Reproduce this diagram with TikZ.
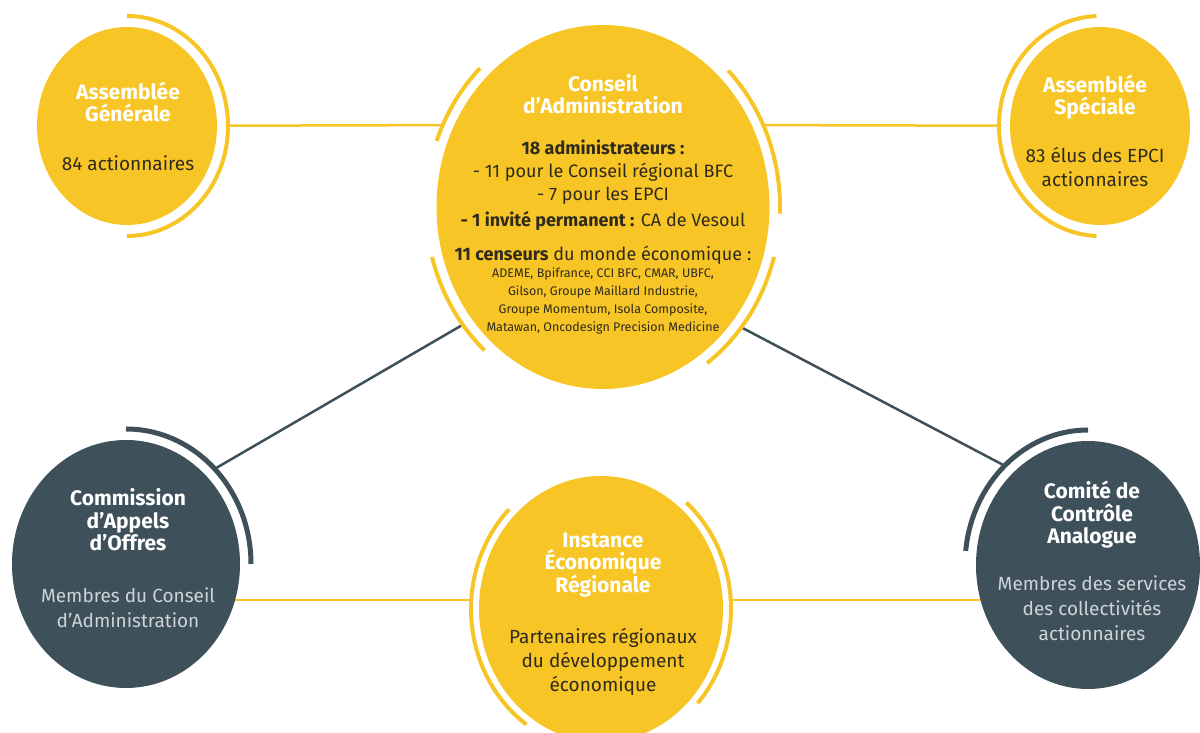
\documentclass[tikz,border=0pt]{standalone}
\usepackage{fontspec}
\setmainfont{Fira Sans}
\usepackage{tikz}
\usetikzlibrary{shapes.geometric,positioning,backgrounds}
\definecolor{sun}{RGB}{247,198,38}
\definecolor{slate}{RGB}{62,80,90}
\definecolor{ink}{RGB}{48,42,28}
\definecolor{mist}{RGB}{206,212,215}

\begin{document}
\begin{tikzpicture}[x=1pt,y=1pt,
    ybody/.style={ellipse, fill=sun, inner sep=0pt, outer sep=11pt},
    dbody/.style={ellipse, fill=slate, inner sep=0pt, outer sep=11pt},
    yarc/.style={draw=sun, line width=4pt},
    darc/.style={draw=slate, line width=5pt},
    ylink/.style={draw=sun, line width=2.5pt},
    dlink/.style={draw=slate, line width=2.5pt},
    ttl/.style={font=\fontsize{21}{22.5}\selectfont\bfseries, color=white, align=center},
    txt/.style={font=\fontsize{19}{24}\selectfont, color=ink, align=center},
    ctxt/.style={font=\fontsize{18}{23}\selectfont, color=ink, align=center},
    dtxt/.style={font=\fontsize{19}{25}\selectfont, color=mist, align=center},
    small/.style={font=\fontsize{12.5}{18}\selectfont, color=ink, align=center}
  ]
  \useasboundingbox (0,0) rectangle (1200,733);

  % circles
  \node[ybody, minimum width=180pt, minimum height=198pt] (ag) at (127,607) {};
  \node[ybody, minimum width=333pt, minimum height=364pt] (ca) at (603,526) {};
  \node[ybody, minimum width=180pt, minimum height=198pt] (as) at (1100,607) {};
  \node[dbody, minimum width=228pt, minimum height=248pt] (cao) at (126,169) {};
  \node[ybody, minimum width=244pt, minimum height=266pt, outer sep=8pt] (ie) at (601,124) {};
  \node[dbody, minimum width=224pt, minimum height=248pt] (cca) at (1088,168) {};

  % arcs
  \draw[yarc] ([shift={(90:101pt and 110pt)}]ag.center) arc[start angle=90, end angle=-90, x radius=101pt, y radius=110pt];
  \draw[yarc] ([shift={(92:101pt and 110pt)}]as.center) arc[start angle=92, end angle=268, x radius=101pt, y radius=110pt];
  \draw[yarc] ([shift={(134:177pt and 193pt)}]ca.center) arc[start angle=134, end angle=160, x radius=177pt, y radius=193pt];
  \draw[yarc] ([shift={(195:177pt and 193pt)}]ca.center) arc[start angle=195, end angle=228, x radius=177pt, y radius=193pt];
  \draw[yarc] ([shift={(45:177pt and 193pt)}]ca.center) arc[start angle=45, end angle=-2, x radius=177pt, y radius=193pt];
  \draw[yarc] ([shift={(-15:177pt and 193pt)}]ca.center) arc[start angle=-15, end angle=-54, x radius=177pt, y radius=193pt];
  \draw[yarc] ([shift={(135:130pt and 141pt)}]ie.center) arc[start angle=135, end angle=235, x radius=130pt, y radius=141pt];
  \draw[yarc] ([shift={(49:130pt and 141pt)}]ie.center) arc[start angle=49, end angle=-42, x radius=130pt, y radius=141pt];
  \draw[darc] ([shift={(90:125pt and 135pt)}]cao.center) arc[start angle=90, end angle=0, x radius=125pt, y radius=135pt];
  \draw[darc] ([shift={(90:123pt and 135pt)}]cca.center) arc[start angle=90, end angle=174, x radius=123pt, y radius=135pt];

  % links
  \begin{scope}[on background layer]
    \draw[ylink] (ag) -- (ca.153);
    \draw[ylink] (ca.27) -- (as);
    \draw[dlink] (cao.47) -- (ca.220);
    \draw[dlink] (ca.319) -- (cca.130);
    \draw[ylink] (ie.176) -- (ie.176 -| cao.center);
    \draw[ylink] (ie.4) -- (ie.4 -| cca.center);
  \end{scope}

  % texts
  \node[ttl] (ag-t) at (128,631) {Assemblée\\Générale};
  \node[txt] (ag-b) at (128,570) {84 actionnaires};

  \node[ttl] (ca-t) at (603,639) {Conseil\\d’Administration};
  \node[ctxt] (ca-adm) at (603,548) {\textbf{18 administrateurs :}\\- 11 pour le Conseil régional BFC\\- 7 pour les EPCI\\[3pt]\textbf{- 1 invité permanent :} CA de Vesoul};
  \node[ctxt] (ca-cens) at (603,478) {\textbf{11 censeurs} du monde économique :};
  \node[small, below=-3pt of ca-cens] (ca-list) {ADEME, Bpifrance, CCI BFC, CMAR, UBFC,\\Gilson, Groupe Maillard Industrie,\\Groupe Momentum, Isola Composite,\\Matawan, Oncodesign Precision Medicine};

  \node[ttl] (as-t) at (1095,636) {Assemblée\\Spéciale};
  \node[txt] (as-b) at (1095,566) {83 élus des EPCI\\actionnaires};

  \node[ttl] (cao-t) at (128,213) {Commission\\d’Appels\\d’Offres};
  \node[dtxt] (cao-b) at (128,125) {Membres du Conseil\\d’Administration};

  \node[ttl] (ie-t) at (603,168) {Instance\\Économique\\Régionale};
  \node[txt] (ie-b) at (603,71) {Partenaires régionaux\\du développement\\économique};

  \node[ttl] (cca-t) at (1092,218) {Comité de\\Contrôle\\Analogue};
  \node[dtxt] (cca-b) at (1092,125) {Membres des services\\des collectivités\\actionnaires};
\end{tikzpicture}
\end{document}
